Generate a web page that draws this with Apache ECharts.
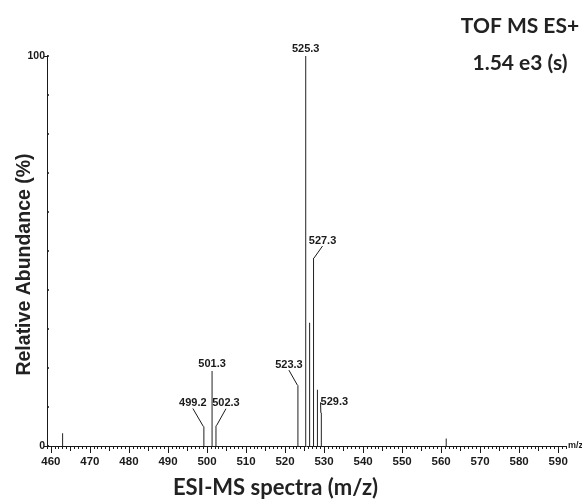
<!DOCTYPE html>
<html>
<head>
<meta charset="utf-8">
<script src="https://cdn.jsdelivr.net/npm/echarts@6/dist/echarts.min.js"></script>
<style>
  html, body { margin: 0; padding: 0; background: #fff; }
  #chart { width: 582px; height: 502px; }
</style>
</head>
<body>
<div id="chart"></div>
<script>
// ---- data ----
const mz = [463.0, 499.2, 501.3, 502.3, 523.3, 525.3, 526.3, 527.3, 528.3, 529.3, 561.3];
const abundance = [3.3, 5.0, 19.2, 5.2, 15.6, 100, 31.6, 48.2, 14.4, 8.5, 1.9];
const peakLabels = ['', '499.2', '501.3', '502.3', '523.3', '525.3', '', '527.3', '', '529.3', ''];
const xTickLabels = [460, 470, 480, 490, 500, 510, 520, 530, 540, 550, 560, 570, 580, 590];
const xMidTicks = [465, 475, 485, 495, 505, 515, 525, 535, 545, 555, 565, 575, 585];
const yTickLabels = [0, 100];
const headerLines = ['TOF MS ES+', '1.54 e3 (s)'];
const xTitle = 'ESI-MS spectra (m/z)';
const yTitle = 'Relative Abundance (%)';

// ---- label placement (style only) ----
const labelShift = {
  '499.2': [-11, -16],
  '502.3': [10, -15],
  '523.3': [-9, -13],
  '527.3': [9, -10],
  '529.3': [13, -3]
};

const narrow = "'Liberation Sans Narrow', 'Liberation Sans', Arial, sans-serif";
const ink = '#1a1a1a';
const headFont = 'Lato, "Open Sans", sans-serif';

const seriesData = mz.map((x, i) => {
  const lab = peakLabels[i];
  return {
    value: [x, abundance[i]],
    label: lab ? { show: true, formatter: lab } : { show: false },
    labelLine: { show: !!(lab && labelShift[lab]) }
  };
});

const chart = echarts.init(document.getElementById('chart'), null, { renderer: 'canvas' });
const xMin = 459, xMax = 592;
chart.setOption({
  animation: false,
  backgroundColor: '#ffffff',
  title: {
    text: headerLines.join('\n'),
    left: 515,
    top: 3,
    textAlign: 'center',
    textStyle: {
      fontFamily: headFont,
      fontWeight: 'bold',
      fontSize: 21,
      lineHeight: 37,
      color: '#222'
    }
  },
  grid: { left: 47, right: 16, top: 56, bottom: 56, containLabel: false, outerBoundsMode: 'none' },
  xAxis: [
    {
      type: 'value', min: xMin, max: xMax, interval: 1, position: 'bottom',
      axisLine: { show: true, lineStyle: { color: ink, width: 1 } },
      axisTick: { show: true, length: 3, lineStyle: { color: ink, width: 1 } },
      axisLabel: { show: false },
      splitLine: { show: false },
      name: 'm/z', nameLocation: 'end', nameGap: 2,
      nameTextStyle: { fontFamily: narrow, fontSize: 9, color: ink, fontWeight: 'bold' }
    },
    {
      type: 'value', min: xMin, max: xMax, position: 'bottom',
      axisLine: { show: false },
      axisTick: { show: true, length: 5, customValues: xMidTicks, lineStyle: { color: ink, width: 1 } },
      axisLabel: { show: false },
      splitLine: { show: false }
    },
    {
      type: 'value', min: xMin, max: xMax, position: 'bottom',
      axisLine: { show: false },
      axisTick: { show: true, length: 7, customValues: xTickLabels, lineStyle: { color: ink, width: 1 } },
      axisLabel: {
        show: true, customValues: xTickLabels, margin: 10,
        fontFamily: narrow, fontSize: 11.5, fontWeight: 'bold', color: ink
      },
      splitLine: { show: false },
      name: xTitle, nameLocation: 'middle', nameGap: 31, nameMoveOverlap: false,
      nameTextStyle: {
        fontFamily: headFont, fontWeight: 'bold', fontSize: 22, color: '#222',
        padding: [0, 62, 0, 0]
      }
    }
  ],
  yAxis: [
    {
      type: 'value', min: 0, max: 100, interval: 10, position: 'left',
      axisLine: { show: true, lineStyle: { color: ink, width: 1 } },
      axisTick: { show: true, inside: true, length: 2, lineStyle: { color: ink, width: 1.5 } },
      axisLabel: { show: false },
      splitLine: { show: false },
      name: yTitle, nameLocation: 'middle', nameGap: 12, nameRotate: 90, nameMoveOverlap: false,
      nameTextStyle: {
        fontFamily: '"Liberation Sans", Arial, sans-serif', fontWeight: 'bold', fontSize: 19.5, color: '#222',
        padding: [0, 27, 0, 0]
      }
    },
    {
      type: 'value', min: 0, max: 100, position: 'left',
      axisLine: { show: false },
      axisTick: { show: true, length: 3, customValues: yTickLabels, lineStyle: { color: ink, width: 1 } },
      axisLabel: {
        show: true, customValues: yTickLabels, margin: 2,
        fontFamily: narrow, fontSize: 10.5, fontWeight: 'bold', color: ink
      },
      splitLine: { show: false }
    }
  ],
  series: [{
    type: 'bar',
    xAxisIndex: 0,
    yAxisIndex: 0,
    barWidth: 1,
    itemStyle: { color: '#222' },
    label: {
      position: 'top', distance: 2,
      fontFamily: narrow, fontSize: 11, fontWeight: 'bold', color: ink
    },
    labelLine: { show: true, lineStyle: { color: ink, width: 1 } },
    labelLayout: function (params) {
      const lab = peakLabels[params.dataIndex];
      const s = labelShift[lab];
      return s ? { dx: s[0], dy: s[1] } : {};
    },
    data: seriesData
  }]
});
</script>
</body>
</html>
